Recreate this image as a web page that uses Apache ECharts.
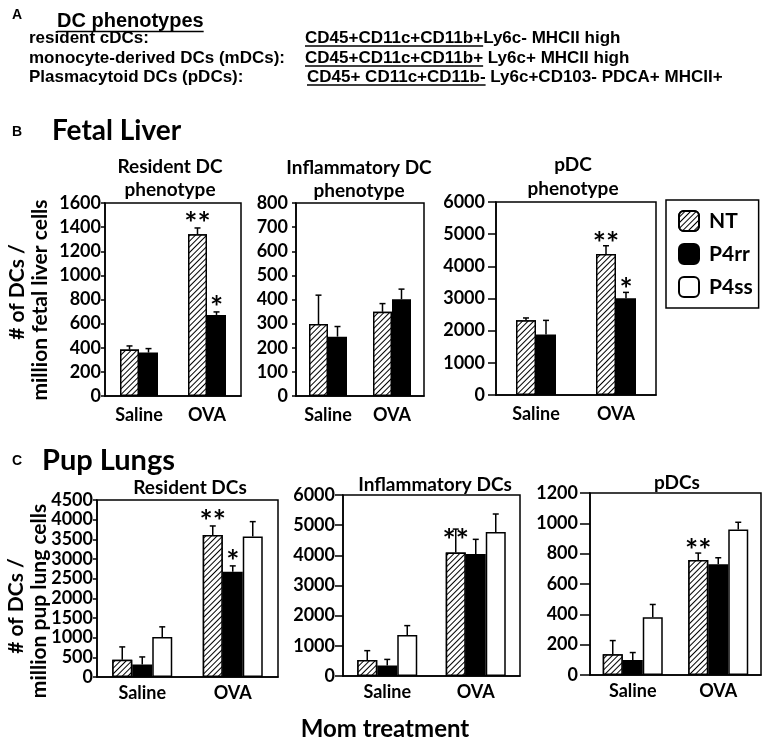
<!DOCTYPE html>
<html>
<head>
<meta charset="utf-8">
<script src="https://cdn.jsdelivr.net/npm/echarts@6/dist/echarts.min.js"></script>
<style>
  html, body { margin: 0; background: #fff; }
  #c { width: 765px; height: 742px; }
</style>
</head>
<body>
<div id="c"></div>
<script>
// ---------- data ----------
const categories = ['Saline', 'OVA'];
const groupNames = ['NT', 'P4rr', 'P4ss'];

// B. Fetal liver — resident DC phenotype
const fetalResNT = [385, 1340],   fetalResNTErr = [30, 53],   fetalResNTStar = ['', '**'];
const fetalResP4rr = [360, 672],  fetalResP4rrErr = [33, 25], fetalResP4rrStar = ['', '*'];
// B. Fetal liver — inflammatory DC phenotype
const fetalInfNT = [298, 349],    fetalInfNTErr = [120, 34];
const fetalInfP4rr = [246, 401],  fetalInfP4rrErr = [42, 42];
// B. Fetal liver — pDC phenotype
const fetalPdcNT = [2320, 4380],  fetalPdcNTErr = [75, 260],  fetalPdcNTStar = ['', '**'];
const fetalPdcP4rr = [1880, 3010], fetalPdcP4rrErr = [440, 180], fetalPdcP4rrStar = ['', '*'];

// C. Pup lungs — resident DCs
const pupResNT = [440, 3610],     pupResNTErr = [325, 230],   pupResNTStar = ['', '**'];
const pupResP4rr = [315, 2675],   pupResP4rrErr = [195, 150], pupResP4rrStar = ['', '*'];
const pupResP4ss = [1020, 3570],  pupResP4ssErr = [255, 380];
// C. Pup lungs — inflammatory DCs
const pupInfNT = [530, 4090],     pupInfNTErr = [310, 780],   pupInfNTStar = ['', '**'];
const pupInfP4rr = [345, 4045],   pupInfP4rrErr = [205, 485];
const pupInfP4ss = [1360, 4775],  pupInfP4ssErr = [310, 595];
// C. Pup lungs — pDCs
const pupPdcNT = [137, 758],      pupPdcNTErr = [90, 46],     pupPdcNTStar = ['', '**'];
const pupPdcP4rr = [99, 731],     pupPdcP4rrErr = [49, 42];
const pupPdcP4ss = [381, 959],    pupPdcP4ssErr = [84, 48];

// axis ranges
const fetalResAxis = { max: 1600, step: 200 };
const fetalInfAxis = { max: 800, step: 100 };
const fetalPdcAxis = { max: 6000, step: 1000 };
const pupResAxis = { max: 4500, step: 500 };
const pupInfAxis = { max: 6000, step: 1000 };
const pupPdcAxis = { max: 1200, step: 200 };

// ---------- layout ----------
const FC = 'Lato, "Open Sans", sans-serif';        // Calibri stand-in
const FA = '"Liberation Sans", Arial, sans-serif';  // Arial stand-in

const panels = [
  { axis: fetalResAxis, box: [105, 203, 136, 193], barW: 19, tick: 4, lab: 4, xm: 10, lift: 12,
    groups: [['NT', fetalResNT, fetalResNTErr, fetalResNTStar], ['P4rr', fetalResP4rr, fetalResP4rrErr, fetalResP4rrStar]] },
  { axis: fetalInfAxis, box: [296, 203, 128, 193], barW: 19, tick: 4, lab: 8, xm: 10, lift: 10,
    groups: [['NT', fetalInfNT, fetalInfNTErr, null], ['P4rr', fetalInfP4rr, fetalInfP4rrErr, null]] },
  { axis: fetalPdcAxis, box: [496, 202, 160, 193], barW: 20, tick: 8, lab: 11, xm: 10, lift: 10,
    groups: [['NT', fetalPdcNT, fetalPdcNTErr, fetalPdcNTStar], ['P4rr', fetalPdcP4rr, fetalPdcP4rrErr, fetalPdcP4rrStar]] },
  { axis: pupResAxis, box: [97, 500, 181, 177], barW: 20, tick: 4, lab: 4, xm: 7, lift: 12,
    groups: [['NT', pupResNT, pupResNTErr, pupResNTStar], ['P4rr', pupResP4rr, pupResP4rrErr, pupResP4rrStar],
             ['P4ss', pupResP4ss, pupResP4ssErr, null]] },
  { axis: pupInfAxis, box: [343, 495, 177, 181], barW: 20, tick: 8, lab: 8, xm: 7, lift: -4,
    groups: [['NT', pupInfNT, pupInfNTErr, pupInfNTStar], ['P4rr', pupInfP4rr, pupInfP4rrErr, null],
             ['P4ss', pupInfP4ss, pupInfP4ssErr, null]] },
  { axis: pupPdcAxis, box: [590, 493, 171, 182], barW: 20, tick: 10, lab: 12, xm: 7, lift: 10,
    groups: [['NT', pupPdcNT, pupPdcNTErr, pupPdcNTStar], ['P4rr', pupPdcP4rr, pupPdcP4rrErr, null],
             ['P4ss', pupPdcP4ss, pupPdcP4ssErr, null]] }
];

const barStyle = {
  NT: { color: '#fff', borderColor: '#000', borderWidth: 1.5,
        decal: { symbol: 'rect', symbolSize: 1, dashArrayX: [1, 0], dashArrayY: [1, 2.2],
                 rotation: -Math.PI / 4, color: '#000', backgroundColor: '#fff' } },
  P4rr: { color: '#000', borderColor: '#000', borderWidth: 1.5 },
  P4ss: { color: '#fff', borderColor: '#000', borderWidth: 1.5 }
};

const black = { color: '#000', width: 1.5 };
const grids = [], xAxes = [], yAxes = [], series = [];

panels.forEach((p, pi) => {
  const [l, t, w, h] = p.box;
  grids.push({ left: l, top: t, width: w, height: h, show: true, borderColor: '#000', borderWidth: 1.5,
               containLabel: false, outerBoundsMode: 'none' });
  xAxes.push({ type: 'category', gridIndex: pi, data: categories,
               axisLine: { lineStyle: black }, axisTick: { show: false },
               axisLabel: { color: '#000', fontFamily: FC, fontWeight: 'bold', fontSize: 18, margin: p.xm } });
  yAxes.push({ type: 'value', gridIndex: pi, min: 0, max: p.axis.max, interval: p.axis.step,
               splitLine: { show: false },
               axisLine: { show: true, lineStyle: black },
               axisTick: { show: true, length: p.tick, lineStyle: black },
               axisLabel: { color: '#000', fontFamily: FC, fontWeight: 'bold', fontSize: 18, margin: p.lab,
                            formatter: v => String(v) } });
  const n = p.groups.length;
  p.groups.forEach(([name, mean, err, stars], gi) => {
    series.push({ type: 'bar', name, xAxisIndex: pi, yAxisIndex: pi, data: mean,
                  barWidth: p.barW, barGap: '0%', itemStyle: barStyle[name], z: 2 });
    series.push({
      type: 'custom', name: 'err', xAxisIndex: pi, yAxisIndex: pi, z: 5, clip: false,
      data: mean.map((m, i) => [i, m, m + err[i]]),
      renderItem: (params, api) => {
        const i = api.value(0);
        const off = (gi - (n - 1) / 2) * p.barW;
        const b = api.coord([i, api.value(1)]);
        const e = api.coord([i, api.value(2)]);
        const x = b[0] + off;
        const kids = [
          { type: 'line', shape: { x1: x, y1: b[1], x2: x, y2: e[1] }, style: { stroke: '#000', lineWidth: 1.5 } },
          { type: 'line', shape: { x1: x - 3, y1: e[1], x2: x + 3, y2: e[1] }, style: { stroke: '#000', lineWidth: 1.5 } }
        ];
        const s = stars && stars[params.dataIndex];
        if (s) kids.push({ type: 'text', x: x, y: e[1] - p.lift + 8,
          style: { text: s, font: 'bold 31px ' + FC, fill: '#000', align: 'center', verticalAlign: 'middle' } });
        return { type: 'group', children: kids };
      }
    });
  });
});

// ---------- text ----------
const ctx = document.createElement('canvas').getContext('2d');
function textW(str, font) { ctx.font = font; return ctx.measureText(str).width; }

const graphics = [];
function txt(x, y, text, font, align, extra) {
  graphics.push(Object.assign({ type: 'text', x, y, silent: true,
    style: { text, font, fill: '#000', align: align || 'left', verticalAlign: 'middle' } }, extra || {}));
}
function uline(x1, x2, y) {
  graphics.push({ type: 'line', silent: true, shape: { x1, y1: y, x2, y2: y }, style: { stroke: '#000', lineWidth: 1.5 } });
}

// A. phenotype definitions
const phenoLeft = ['resident cDCs:', 'monocyte-derived DCs (mDCs):', 'Plasmacytoid DCs (pDCs):'];
const phenoMarkers = ['CD45+CD11c+CD11b+', 'CD45+CD11c+CD11b+', 'CD45+ CD11c+CD11b-'];
const phenoRest = ['Ly6c- MHCII high', ' Ly6c+ MHCII high', ' Ly6c+CD103- PDCA+ MHCII+'];

const fA = 'bold 17px ' + FA;
txt(12, 15, 'A', 'bold 14px ' + FA);
txt(57, 21, 'DC phenotypes', 'bold 20px ' + FA);
uline(57, 57 + textW('DC phenotypes', 'bold 20px ' + FA), 31.5);
[38, 58, 77].forEach((y, i) => {
  txt(29, y, phenoLeft[i], fA);
  const x0 = i === 2 ? 307 : 305;
  const wm = textW(phenoMarkers[i], fA);
  txt(x0, y, phenoMarkers[i] + phenoRest[i], fA);
  uline(x0, x0 + wm, y + 8);
});

// B / C section headers
txt(12, 132, 'B', 'bold 14px ' + FA);
txt(52, 131, 'Fetal Liver', 'bold 28px ' + FC);
txt(12, 461, 'C', 'bold 14px ' + FA);
txt(42, 461, 'Pup Lungs', 'bold 29px ' + FC);

// panel titles
const fT = 'bold 19px ' + FC;
txt(170, 167, 'Resident DC', fT, 'center');
txt(170, 190, 'phenotype', fT, 'center');
txt(359, 168, 'Inflammatory DC', fT, 'center');
txt(359, 191, 'phenotype', fT, 'center');
txt(573, 165, 'pDC', fT, 'center');
txt(573, 189, 'phenotype', fT, 'center');
txt(190, 488, 'Resident DCs', fT, 'center');
txt(435, 485, 'Inflammatory DCs', fT, 'center');
txt(677, 483, 'pDCs', fT, 'center');

// y-axis titles
const fY = 'bold 21px ' + FC;
const rot = { rotation: Math.PI / 2 };
txt(17, 292, '# of DCs /', fY, 'center', rot);
txt(40, 300, 'million fetal liver cells', fY, 'center', rot);
txt(16, 606, '# of DCs /', fY, 'center', rot);
txt(39, 601, 'million pup lung cells', fY, 'center', rot);

// shared x title
txt(385, 729, 'Mom treatment', 'bold 24px ' + FC, 'center');

// ---------- chart ----------
const chart = echarts.init(document.getElementById('c'), null, { renderer: 'canvas' });
chart.setOption({
  animation: false,
  backgroundColor: '#fff',
  grid: grids,
  xAxis: xAxes,
  yAxis: yAxes,
  legend: {
    data: groupNames, orient: 'vertical', left: 666, top: 200,
    padding: [10, 6, 10, 12], itemGap: 11, itemWidth: 20, itemHeight: 20,
    borderColor: '#000', borderWidth: 1.5, selectedMode: false,
    textStyle: { color: '#000', fontFamily: FC, fontWeight: 'bold', fontSize: 21, padding: [0, 0, 0, 5] }
  },
  graphic: graphics,
  series
});
</script>
</body>
</html>
